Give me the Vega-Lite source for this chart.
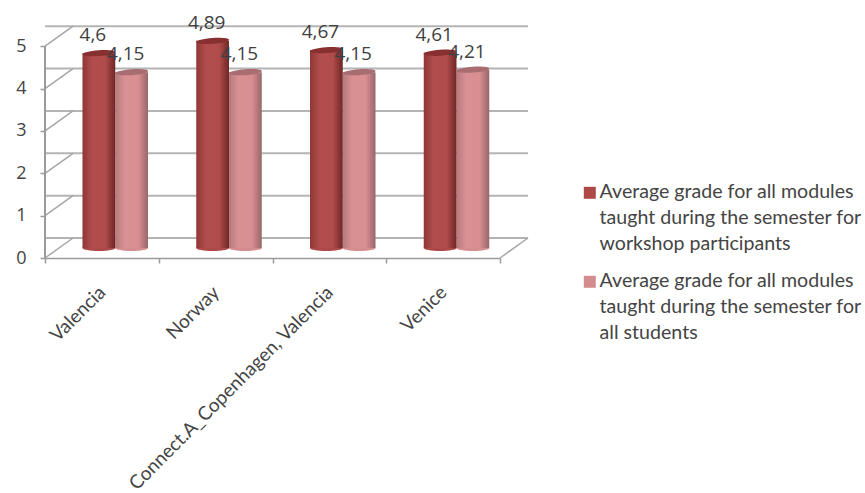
{
  "$schema": "https://vega.github.io/schema/vega-lite/v6.json",
  "autosize": "none",
  "width": 455,
  "height": 233,
  "padding": {"left": 45, "top": 25, "right": 365, "bottom": 235},
  "background": "white",
  "config": {
    "locale": {"number": {"decimal": ",", "thousands": ".", "grouping": [3], "currency": ["", " €"]}},
    "view": {"stroke": null},
    "font": "Lato"
  },
  "datasets": {
    "grades": [
      {"place": "Valencia", "series": "Average grade for all modules taught during the semester for workshop participants", "grade": 4.6},
      {"place": "Valencia", "series": "Average grade for all modules taught during the semester for all students", "grade": 4.15},
      {"place": "Norway", "series": "Average grade for all modules taught during the semester for workshop participants", "grade": 4.89},
      {"place": "Norway", "series": "Average grade for all modules taught during the semester for all students", "grade": 4.15},
      {"place": "Connect.A_Copenhagen, Valencia", "series": "Average grade for all modules taught during the semester for workshop participants", "grade": 4.67},
      {"place": "Connect.A_Copenhagen, Valencia", "series": "Average grade for all modules taught during the semester for all students", "grade": 4.15},
      {"place": "Venice", "series": "Average grade for all modules taught during the semester for workshop participants", "grade": 4.61},
      {"place": "Venice", "series": "Average grade for all modules taught during the semester for all students", "grade": 4.21}
    ],
    "levels": [{"level": 0}, {"level": 1}, {"level": 2}, {"level": 3}, {"level": 4}, {"level": 5}]
  },
  "data": {"name": "grades"},
  "encoding": {
    "x": {
      "field": "place", "type": "nominal", "sort": null, "title": null,
      "scale": {"paddingInner": 0, "paddingOuter": 0},
      "axis": {
        "tickBand": "extent", "domainColor": "#9a9a9a", "domainWidth": 1.5, "tickColor": "#9a9a9a", "tickWidth": 1.5, "tickSize": 5,
        "labelAngle": -45, "labelAlign": "right", "labelBaseline": "middle", "labelFontSize": 19, "labelColor": "#444444", "labelPadding": 26, "labelLimit": 400, "labelFont": "Lato", "grid": false
      }
    },
    "y": {
      "field": "grade", "type": "quantitative", "title": null,
      "scale": {"domain": [0, 5.5], "nice": false},
      "axis": {
        "values": [0, 1, 2, 3, 4, 5], "format": "d", "domain": false, "grid": false, "tickColor": "#9a9a9a", "tickWidth": 1.5, "tickSize": 5,
        "labelFontSize": 18, "labelColor": "#444444", "labelPadding": 14, "labelFont": "Open Sans"
      }
    },
    "xOffset": {"field": "series", "type": "nominal", "sort": null, "scale": {"range": [37.5, 103], "paddingInner": 0, "paddingOuter": 0}}
  },
  "layer": [
    {
      "data": {"name": "levels"},
      "mark": {"type": "rule", "color": "#b4b4b4", "strokeWidth": 2, "xOffset": 28, "x2Offset": 28, "yOffset": -20},
      "encoding": {"x": null, "xOffset": null, "y": {"field": "level", "type": "quantitative"}}
    },
    {
      "data": {"name": "levels"},
      "mark": {"type": "rule", "color": "#a6a6a6", "strokeWidth": 1.5, "x2Offset": 28, "y2Offset": -20},
      "encoding": {"x": {"value": 0}, "x2": {"value": 0}, "xOffset": null, "y": {"field": "level", "type": "quantitative"}, "y2": {"field": "level"}}
    },
    {
      "data": {"name": "levels"},
      "transform": [{"filter": "datum.level === 0"}],
      "mark": {"type": "rule", "color": "#a6a6a6", "strokeWidth": 1.5, "x2Offset": 28, "y2Offset": -20},
      "encoding": {"x": {"value": 455}, "x2": {"value": 455}, "xOffset": null, "y": {"field": "level", "type": "quantitative"}, "y2": {"field": "level"}}
    },
    {
      "mark": {"type": "rule", "color": "#9a9a9a", "strokeWidth": 1.5},
      "encoding": {"x": {"value": 0}, "xOffset": null, "y": {"datum": 0}, "y2": {"datum": 5}}
    },
    {
      "mark": {"type": "point", "filled": true, "opacity": 1, "shape": "M-1,0A1,.18 0 1,1 1,0A1,.18 0 1,1 -1,0Z", "size": 1089, "strokeWidth": 0, "yOffset": -10},
      "encoding": {
        "y": {"datum": 0},
        "fill": {
          "field": "series", "type": "nominal", "sort": null,
          "scale": {
            "domain": [
              "Average grade for all modules taught during the semester for workshop participants",
              "Average grade for all modules taught during the semester for all students"
            ],
            "range": ["#ad4a49", "#d58c8f"]
          },
          "legend": {
            "title": null, "orient": "none", "legendX": 535, "legendY": 158,
            "symbolType": "square", "symbolSize": 144, "symbolStrokeWidth": 0, "symbolOpacity": 1, "labelOffset": 0,
            "labelExpr": "[slice(datum.label,0,29), slice(datum.label,30,60), slice(datum.label,61)]",
            "labelFontSize": 19.6, "labelColor": "#444444", "labelFont": "Lato", "labelLimit": 400, "labelBaseline": "top", "rowPadding": 16,
            "encoding": {"labels": {"lineHeight": {"value": 26}, "dy": {"value": -10}}}
          }
        }
      }
    },
    {
      "transform": [{"filter": "indexof(datum.series,'workshop') < 0"}],
      "mark": {"type": "bar", "yOffset": -10, "y2Offset": -10,
        "fill": {"gradient": "linear", "x1": 0, "y1": 0, "x2": 1, "y2": 0, "stops": [
          {"offset": 0, "color": "#b57a7c"}, {"offset": 0.3, "color": "#da9194"}, {"offset": 0.7, "color": "#d98f92"}, {"offset": 1, "color": "#9a6668"}
        ]}}
    },
    {
      "transform": [{"filter": "indexof(datum.series,'workshop') >= 0"}],
      "mark": {"type": "bar", "yOffset": -10, "y2Offset": -10,
        "fill": {"gradient": "linear", "x1": 0, "y1": 0, "x2": 1, "y2": 0, "stops": [
          {"offset": 0, "color": "#8e3736"}, {"offset": 0.3, "color": "#b14e4d"}, {"offset": 0.7, "color": "#b04c4b"}, {"offset": 1, "color": "#6f2726"}
        ]}}
    },
    {
      "transform": [{"filter": "indexof(datum.series,'workshop') >= 0"}],
      "mark": {"type": "point", "filled": true, "opacity": 1, "fill": "#87302f", "shape": "M-1,0A1,.18 0 1,1 1,0A1,.18 0 1,1 -1,0Z", "size": 1089, "strokeWidth": 0, "angle": -4, "yOffset": -10}
    },
    {
      "transform": [{"filter": "indexof(datum.series,'workshop') < 0"}],
      "mark": {"type": "point", "filled": true, "opacity": 1, "fill": "#a86d70", "shape": "M-1,0A1,.18 0 1,1 1,0A1,.18 0 1,1 -1,0Z", "size": 1089, "strokeWidth": 0, "angle": -4, "yOffset": -10}
    },
    {
      "mark": {"type": "text", "font": "Open Sans", "fontSize": 19, "color": "#3f3f3f", "dx": -6, "dy": -28},
      "encoding": {"text": {"field": "grade", "type": "quantitative", "format": ".2~f"}}
    }
  ]
}
